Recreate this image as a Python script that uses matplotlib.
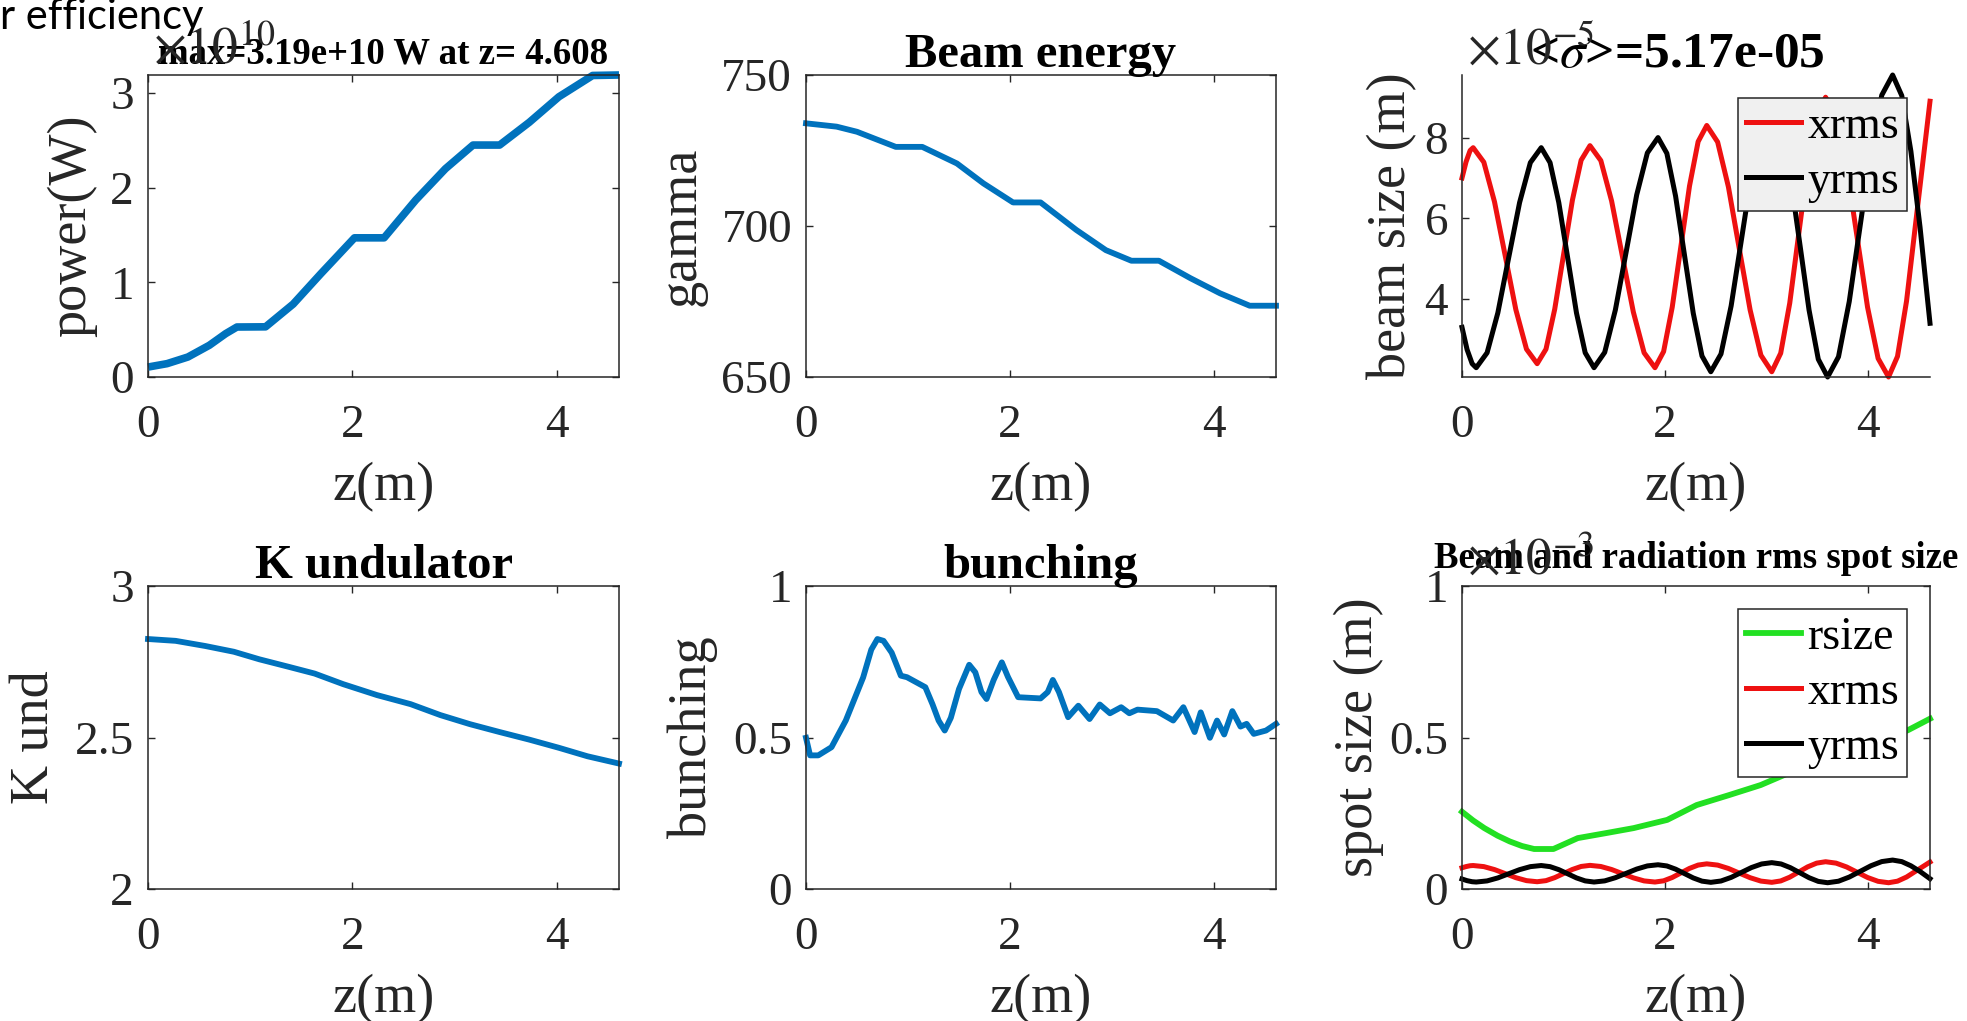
import matplotlib
matplotlib.use('Agg')
import matplotlib.pyplot as plt
from matplotlib.ticker import FixedLocator, FuncFormatter

plt.rcParams['font.family'] = ['Liberation Serif', 'DejaVu Serif']
plt.rcParams['mathtext.fontset'] = 'stix'

# ---------------- data ----------------
z_ticks = [0, 2, 4]
z_max = 4.608

# power (W)
z_power = [0, 0.186, 0.39, 0.60, 0.76, 0.87, 1.15, 1.42, 1.69, 2.02, 2.31, 2.62,
           2.91, 3.18, 3.44, 3.73, 4.02, 4.35, 4.608]
power = [0.105e10, 0.141e10, 0.211e10, 0.335e10, 0.458e10, 0.528e10, 0.53e10,
         0.77e10, 1.09e10, 1.47e10, 1.47e10, 1.87e10, 2.20e10, 2.45e10, 2.45e10,
         2.69e10, 2.96e10, 3.185e10, 3.19e10]

# beam energy (gamma)
z_gamma = [0, 0.30, 0.50, 0.88, 1.14, 1.48, 1.74, 2.03, 2.30, 2.65, 2.94, 3.19,
           3.46, 3.77, 4.06, 4.35, 4.608]
gamma = [734.0, 732.9, 731.2, 726.2, 726.2, 720.7, 714.1, 707.8, 707.8, 698.7,
         692.0, 688.5, 688.5, 682.7, 677.7, 673.6, 673.6]

# K undulator
z_k = [0, 0.27, 0.56, 0.84, 1.09, 1.38, 1.63, 1.91, 2.24, 2.57, 2.86, 3.15, 3.44,
       3.73, 4.02, 4.30, 4.608]
k_und = [2.825, 2.819, 2.802, 2.783, 2.758, 2.733, 2.711, 2.676, 2.640, 2.610,
         2.574, 2.544, 2.518, 2.493, 2.466, 2.438, 2.414]

# bunching
z_bunch = [0, 0.04, 0.12, 0.25, 0.39, 0.56, 0.64, 0.70, 0.76, 0.84, 0.93, 0.99,
           1.17, 1.24, 1.30, 1.36, 1.42, 1.50, 1.60, 1.66, 1.72, 1.77, 1.84, 1.92,
           1.98, 2.08, 2.30, 2.37, 2.42, 2.48, 2.57, 2.67, 2.78, 2.88, 2.98,
           3.09, 3.17, 3.25, 3.44, 3.60, 3.70, 3.81, 3.87, 3.96, 4.03, 4.10, 4.18,
           4.26, 4.32, 4.39, 4.51, 4.608]
bunching = [0.499, 0.441, 0.441, 0.468, 0.556, 0.698, 0.790, 0.825, 0.819, 0.780,
            0.704, 0.699, 0.666, 0.610, 0.556, 0.523, 0.565, 0.660, 0.740, 0.715,
            0.650, 0.627, 0.690, 0.748, 0.700, 0.633, 0.629, 0.650, 0.690, 0.650,
            0.567, 0.605, 0.561, 0.609, 0.580, 0.600, 0.580, 0.592, 0.587, 0.556,
            0.600, 0.518, 0.583, 0.499, 0.556, 0.510, 0.587, 0.536, 0.545, 0.512,
            0.523, 0.545]

# beam rms sizes (m)
z_xrms = [0.000, 0.040, 0.080, 0.110, 0.215, 0.320, 0.425, 0.530, 0.635, 0.740,
          0.827, 0.913, 1.000, 1.087, 1.173, 1.260, 1.367, 1.473, 1.580, 1.687,
          1.793, 1.900, 1.985, 2.070, 2.155, 2.240, 2.325, 2.410, 2.517, 2.623,
          2.730, 2.837, 2.943, 3.050, 3.138, 3.227, 3.315, 3.403, 3.492, 3.580,
          3.683, 3.787, 3.890, 3.993, 4.097, 4.200, 4.288, 4.377, 4.465, 4.553,
          4.608]
xrms = [7.00e-5, 7.40e-5, 7.68e-5, 7.75e-5, 7.39e-5, 6.41e-5, 5.08e-5, 3.74e-5,
        2.76e-5, 2.40e-5, 2.76e-5, 3.75e-5, 5.10e-5, 6.45e-5, 7.44e-5, 7.80e-5,
        7.43e-5, 6.43e-5, 5.05e-5, 3.68e-5, 2.67e-5, 2.30e-5, 2.70e-5, 3.80e-5,
        5.30e-5, 6.80e-5, 7.90e-5, 8.30e-5, 7.89e-5, 6.78e-5, 5.25e-5, 3.73e-5,
        2.61e-5, 2.20e-5, 2.66e-5, 3.90e-5, 5.60e-5, 7.30e-5, 8.54e-5, 9.00e-5,
        8.54e-5, 7.27e-5, 5.54e-5, 3.80e-5, 2.53e-5, 2.07e-5, 2.58e-5, 3.95e-5,
        5.84e-5, 7.72e-5, 8.90e-5]

z_yrms = [0.000, 0.050, 0.100, 0.140, 0.247, 0.353, 0.460, 0.567, 0.673, 0.780,
          0.867, 0.953, 1.040, 1.127, 1.213, 1.300, 1.405, 1.510, 1.615, 1.720,
          1.825, 1.930, 2.017, 2.103, 2.190, 2.277, 2.363, 2.450, 2.550, 2.650,
          2.750, 2.850, 2.950, 3.050, 3.142, 3.233, 3.325, 3.417, 3.508, 3.600,
          3.707, 3.813, 3.920, 4.027, 4.133, 4.240, 4.330, 4.420, 4.510, 4.608]
yrms = [3.30e-5, 2.75e-5, 2.40e-5, 2.30e-5, 2.67e-5, 3.66e-5, 5.03e-5, 6.39e-5,
        7.38e-5, 7.75e-5, 7.38e-5, 6.39e-5, 5.03e-5, 3.66e-5, 2.67e-5, 2.30e-5,
        2.68e-5, 3.73e-5, 5.15e-5, 6.58e-5, 7.62e-5, 8.00e-5, 7.61e-5, 6.55e-5,
        5.10e-5, 3.65e-5, 2.59e-5, 2.20e-5, 2.64e-5, 3.83e-5, 5.45e-5, 7.08e-5,
        8.26e-5, 8.70e-5, 8.26e-5, 7.04e-5, 5.39e-5, 3.73e-5, 2.51e-5, 2.07e-5,
        2.57e-5, 3.94e-5, 5.81e-5, 7.68e-5, 9.05e-5, 9.55e-5, 9.04e-5, 7.66e-5,
        5.78e-5, 3.40e-5]

# radiation rms size (m)
z_rsize = [0, 0.11, 0.22, 0.35, 0.47, 0.59, 0.71, 0.90, 1.02, 1.14, 1.41, 1.69,
           2.02, 2.31, 2.63, 2.94, 3.24, 3.60, 3.90, 4.15, 4.39, 4.608]
rsize = [0.255e-3, 0.226e-3, 0.201e-3, 0.176e-3, 0.157e-3, 0.142e-3, 0.132e-3,
         0.132e-3, 0.150e-3, 0.168e-3, 0.184e-3, 0.201e-3, 0.228e-3, 0.277e-3,
         0.310e-3, 0.343e-3, 0.386e-3, 0.425e-3, 0.465e-3, 0.495e-3, 0.524e-3,
         0.562e-3]

sigma_mean = 5.17e-05

# ---------------- figure ----------------
W, H = 1967, 1021
fig = plt.figure(figsize=(W / 100, H / 100), dpi=100)

GREY = '#262626'
BLUE = '#0072BD'
RED = '#ee1111'
GREEN = '#22e022'

cols = [(148, 619), (806, 1276), (1462, 1930)]
rows = [(75, 377), (586, 889)]

TICK_FS = 34
LABEL_FS = 39
TITLE_FS = 35
SMALL_TITLE_FS = 26.5
LEG_FS = 33
OFF_FS = 37
LW = 4.2


def make_ax(r, c):
    l, rr = cols[c]
    t, b = rows[r]
    return fig.add_axes([l / W, 1 - b / H, (rr - l) / W, (b - t) / H])


def style(ax, yticks, scale, ylim, ylabel, ylab_x, box_on=True):
    ax.set_xlim(0, z_max)
    ax.set_ylim(*ylim)
    ax.xaxis.set_major_locator(FixedLocator(z_ticks))
    ax.yaxis.set_major_locator(FixedLocator(yticks))
    ax.xaxis.set_major_formatter(FuncFormatter(lambda v, p: f"{v:g}"))
    ax.yaxis.set_major_formatter(FuncFormatter(lambda v, p: f"{round(v / scale, 6):g}"))
    for s in ax.spines.values():
        s.set_color(GREY)
        s.set_linewidth(1.1)
    if not box_on:
        ax.spines['top'].set_visible(False)
        ax.spines['right'].set_visible(False)
    ax.tick_params(axis='both', direction='in', length=5, width=1.0, colors=GREY,
                   labelsize=TICK_FS, top=box_on, right=box_on,
                   labelcolor=GREY)
    ax.tick_params(axis='x', pad=20)
    ax.tick_params(axis='y', pad=10)
    ax.set_xlabel('z(m)', fontsize=LABEL_FS, color=GREY)
    ax.xaxis.set_label_coords(0.5, -0.28)
    ax.set_ylabel(ylabel, fontsize=LABEL_FS, color=GREY)
    ax.yaxis.set_label_coords(ylab_x, 0.5)


def offset_text(c, r, expo):
    l, _ = cols[c]
    t, _ = rows[r]
    fig.text((l + 5) / W, 1 - (t - 11) / H, r'$\times10^{%s}$' % expo,
             fontsize=OFF_FS, color=GREY, va='baseline', ha='left')


def legend(ax, face):
    leg = ax.legend(loc='upper right', fontsize=LEG_FS, borderaxespad=0.5,
                    handlelength=1.2, handletextpad=0.15, borderpad=0.17,
                    labelspacing=0.27, fancybox=False, framealpha=1)
    leg.get_frame().set_facecolor(face)
    leg.get_frame().set_edgecolor(GREY)
    leg.get_frame().set_linewidth(1.1)
    return leg


# Panel 1: power
ax1 = make_ax(0, 0)
ax1.plot(z_power, power, color=BLUE, lw=5.5, clip_on=False,
         solid_capstyle='butt')
style(ax1, [0, 1e10, 2e10, 3e10], 1e10, (0, max(power)), 'power(W)', -0.108)
ax1.set_title(f"max={max(power):.3g} W at z= {z_power[power.index(max(power))]:.3f}",
              fontsize=SMALL_TITLE_FS, fontweight='bold', y=1.0, pad=8)
offset_text(0, 0, '10')

# Panel 2: gamma
ax2 = make_ax(0, 1)
ax2.plot(z_gamma, gamma, color=BLUE, lw=LW, clip_on=False)
style(ax2, [650, 700, 750], 1, (650, 750), 'gamma', -0.211)
ax2.set_title('Beam energy', fontsize=TITLE_FS, fontweight='bold', y=1.0, pad=5.5)

# Panel 3: beam size
ax3 = make_ax(0, 2)
ax3.plot(z_xrms, xrms, color=RED, lw=3.6, clip_on=False, label='xrms')
ax3.plot(z_yrms, yrms, color='black', lw=3.6, clip_on=False, label='yrms')
lo = min(min(xrms), min(yrms))
hi = max(max(xrms), max(yrms))
style(ax3, [4e-5, 6e-5, 8e-5], 1e-5, (lo, hi), 'beam size (m)', -0.096, box_on=False)
ax3.set_title(r'<$\sigma$>' + f'={sigma_mean:.2e}', fontsize=37,
              fontweight='bold', x=0.46, y=1.0, pad=5.5)
offset_text(2, 0, '-5')
legend(ax3, '#f0f0f0')

# Panel 4: K undulator
ax4 = make_ax(1, 0)
ax4.plot(z_k, k_und, color=BLUE, lw=LW, clip_on=False)
style(ax4, [2, 2.5, 3], 1, (2, 3), 'K und', -0.185)
ax4.set_title('K undulator', fontsize=TITLE_FS, fontweight='bold', y=1.0, pad=5.5)

# Panel 5: bunching
ax5 = make_ax(1, 1)
ax5.plot(z_bunch, bunching, color=BLUE, lw=LW, clip_on=False)
style(ax5, [0, 0.5, 1], 1, (0, 1), 'bunching', -0.188)
ax5.set_title('bunching', fontsize=TITLE_FS, fontweight='bold', y=1.0, pad=5.5)

# Panel 6: spot sizes
ax6 = make_ax(1, 2)
ax6.plot(z_rsize, rsize, color=GREEN, lw=LW, clip_on=False, label='rsize')
ax6.plot(z_xrms, xrms, color=RED, lw=3.6, clip_on=False, label='xrms')
ax6.plot(z_yrms, yrms, color='black', lw=3.6, clip_on=False, label='yrms')
style(ax6, [0, 0.5e-3, 1e-3], 1e-3, (0, 1e-3), 'spot size (m)', -0.167)
ax6.set_title('Beam and radiation rms spot size', fontsize=SMALL_TITLE_FS,
              fontweight='bold', y=1.0, pad=13)
offset_text(2, 1, '-3')
legend(ax6, 'white')

# slide fragment text at top-left
fig.text(0.0, 1 - 29 / H, 'r efficiency', family=['Lato', 'DejaVu Sans'],
         fontsize=30, va='baseline', ha='left', color='black')

fig.savefig('out.png', dpi=100)
